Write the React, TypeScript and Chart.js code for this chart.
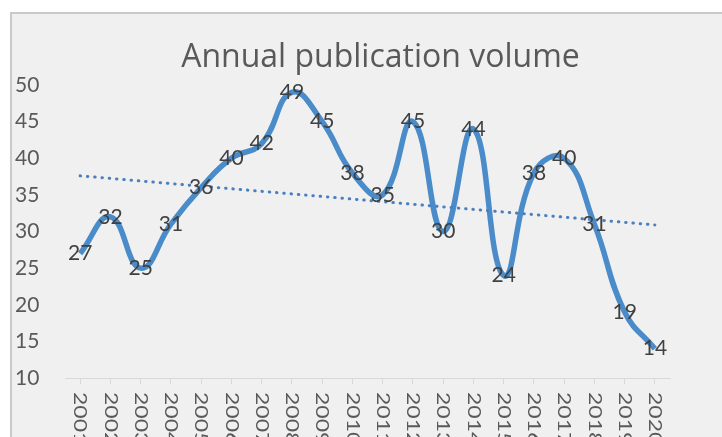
import React, { useEffect, useRef } from "react";
import { Chart, registerables } from "chart.js";

Chart.register(...registerables);

const titleText = "Annual publication volume";
const years = [
  "2001", "2002", "2003", "2004", "2005", "2006", "2007", "2008", "2009", "2010",
  "2011", "2012", "2013", "2014", "2015", "2016", "2017", "2018", "2019", "2020",
];
const volumes = [27, 32, 25, 31, 36, 40, 42, 49, 45, 38, 35, 45, 30, 44, 24, 38, 40, 31, 19, 14];
// linear trendline end values
const trendStart = 37.6;
const trendEnd = 30.9;
const yMin = 10;
const yMax = 50;
const yStep = 5;

const FONT = "Lato, 'Open Sans', sans-serif";
const TITLE_FONT = "'Open Sans', Lato, sans-serif";

const textPlugin = {
  id: "customText",
  afterDatasetsDraw(chart: any) {
    const ctx = chart.ctx as CanvasRenderingContext2D;
    const meta = chart.getDatasetMeta(0);
    ctx.save();
    // data labels centered on points
    ctx.font = `21px ${FONT}`;
    ctx.fillStyle = "#404040";
    ctx.textAlign = "center";
    ctx.textBaseline = "middle";
    meta.data.forEach((pt: any, i: number) => {
      ctx.fillText(String(volumes[i]), pt.x, pt.y);
    });
    // title
    ctx.font = `32px ${TITLE_FONT}`;
    ctx.fillStyle = "#595959";
    ctx.fillText(titleText, chart.width * 0.519, 44);
    // x labels rotated clockwise
    const xs = chart.scales.x;
    ctx.font = `23px ${FONT}`;
    ctx.fillStyle = "#595959";
    years.forEach((label, i) => {
      const x = xs.getPixelForValue(i);
      ctx.save();
      ctx.translate(x, xs.top + 14);
      ctx.rotate(Math.PI / 2);
      ctx.scale(1, 0.78);
      ctx.textAlign = "left";
      ctx.textBaseline = "middle";
      ctx.fillText(label, 0, 0);
      ctx.restore();
    });
    ctx.restore();
  },
};

export default function App() {
  const canvasRef = useRef<HTMLCanvasElement | null>(null);

  useEffect(() => {
    if (!canvasRef.current) return;
    const trendData = years.map((_, i) =>
      i === 0 ? trendStart : i === years.length - 1 ? trendEnd : null
    );
    const chart = new Chart(canvasRef.current, {
      type: "line",
      data: {
        labels: years,
        datasets: [
          {
            label: "Annual publication volume",
            data: volumes,
            borderColor: "#4a8bc9",
            borderWidth: 5.5,
            pointRadius: 0,
            tension: 0.45,
            fill: false,
            order: 2,
          },
          {
            label: "Trend",
            data: trendData as any,
            borderColor: "#4a7fc0",
            borderWidth: 3,
            borderDash: [0.5, 6.8],
            borderCapStyle: "round",
            pointRadius: 0,
            tension: 0,
            spanGaps: true,
            fill: false,
            order: 1,
          },
        ],
      },
      options: {
        animation: false,
        responsive: true,
        maintainAspectRatio: false,
        layout: { padding: { left: 3, right: 52, top: 71, bottom: 0 } },
        plugins: {
          legend: { display: false },
          title: { display: false },
          tooltip: { enabled: false },
        },
        scales: {
          x: {
            type: "category",
            offset: true,
            ticks: { display: false },
            grid: {
              display: true,
              drawOnChartArea: false,
              offset: false,
              tickLength: 6,
              color: "#d9d9d9",
            },
            border: { display: true, color: "#d9d9d9", width: 1 },
            afterFit: (s: any) => {
              s.height = 59;
            },
          },
          y: {
            min: yMin,
            max: yMax,
            ticks: {
              stepSize: yStep,
              color: "#595959",
              font: { family: FONT, size: 21 },
              crossAlign: "far",
              padding: 0,
            },
            grid: { display: false },
            border: { display: false },
            afterFit: (s: any) => {
              s.width = 50;
            },
          },
        },
      },
      plugins: [textPlugin],
    });
    return () => chart.destroy();
  }, []);

  return (
    <div
      style={{
        position: "absolute",
        left: 10,
        top: 12,
        width: 712,
        height: 425,
        boxSizing: "border-box",
        borderTop: "2px solid #c9c9c9",
        borderLeft: "2px solid #c9c9c9",
        background: "#f0f0f0",
        overflow: "hidden",
      }}
    >
      <div style={{ position: "relative", width: 710, height: 423 }}>
        <canvas ref={canvasRef} />
      </div>
    </div>
  );
}
